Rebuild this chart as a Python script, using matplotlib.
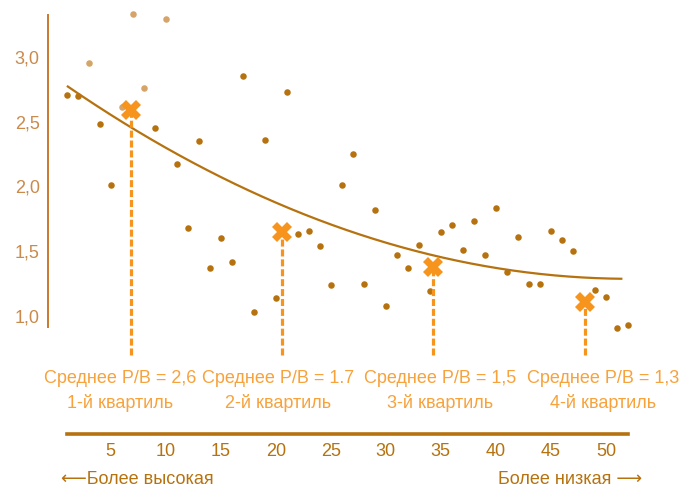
import numpy as np
import matplotlib.pyplot as plt
from matplotlib.ticker import FixedLocator, FuncFormatter

# Data: stock rank (by P/B) and its P/B value
ranks = [1, 2, 3, 4, 5, 6, 7, 8, 9, 10, 11, 12, 13, 14, 15, 16, 17, 18, 19, 20,
         21, 22, 23, 24, 25, 26, 27, 28, 29, 30, 31, 32, 33, 34, 35, 36, 37, 38,
         39, 40, 41, 42, 43, 44, 45, 46, 47, 49, 50, 51, 52]
pb_values = [2.71, 2.70, 2.95, 2.48, 2.01, 2.61, 3.33, 2.76, 2.45, 3.29, 2.17,
             1.68, 2.35, 1.37, 1.60, 1.42, 2.85, 1.03, 2.36, 1.14, 2.73, 1.63,
             1.66, 1.54, 1.24, 2.01, 2.25, 1.25, 1.82, 1.08, 1.47, 1.37, 1.55,
             1.19, 1.65, 1.70, 1.51, 1.73, 1.47, 1.83, 1.34, 1.61, 1.25, 1.25,
             1.66, 1.59, 1.50, 1.20, 1.15, 0.91, 0.93]
light_ranks = [3, 6, 7, 8, 10]

# Trend line
trend_x = [1.1, 6.9, 25.9, 41.0, 51.4]
trend_y = [2.78, 2.44, 1.69, 1.35, 1.29]

# Quartile means
quart_x = [6.85, 20.56, 34.3, 48.1]
quart_y = [2.59, 1.65, 1.38, 1.11]
quart_means = ["2,6", "1.7", "1,5", "1,3"]
quart_names = ["1-й квартиль", "2-й квартиль", "3-й квартиль", "4-й квартиль"]
label_x = [5.85, 20.2, 34.9, 49.75]

x_ticks = [5, 10, 15, 20, 25, 30, 35, 40, 45, 50]
y_ticks = [1.0, 1.5, 2.0, 2.5, 3.0]

dark = "#b5720f"
light = "#d6a468"
orange = "#f7941d"
label_orange = "#f8a23c"
axis_col = "#c77a2e"
ylab_col = "#c98a4b"

plt.rcParams['font.family'] = ['Liberation Sans', 'DejaVu Sans']
fsize = 13

fig = plt.figure(figsize=(6.95, 4.87), dpi=100)
ax = fig.add_axes([48 / 695, 1 - 434 / 487, 592 / 695, 419 / 487])
ax.set_xlim(-0.7, 53.1)
ax.set_ylim(0.0888, 3.324)

# scatter
xs = np.array(ranks)
ys = np.array(pb_values)
is_light = np.isin(xs, light_ranks)
ax.scatter(xs[~is_light], ys[~is_light], s=22, color=dark, linewidths=0,
           zorder=3, clip_on=False)
ax.scatter(xs[is_light], ys[is_light], s=22, color=light, linewidths=0,
           zorder=3, clip_on=False)

# trend
coef = np.polyfit(trend_x, trend_y, 2)
tx = np.linspace(trend_x[0], trend_x[-1], 200)
ax.plot(tx, np.polyval(coef, tx), color=dark, lw=1.6, zorder=2)

# quartile markers and dashed drops
for qx, qy, m, name, lx in zip(quart_x, quart_y, quart_means, quart_names, label_x):
    ax.plot([qx, qx], [0.70, qy], color=orange, lw=2.3,
            linestyle=(0, (2.2, 0.9)), zorder=4)
    ax.plot(qx, qy, marker='X', markersize=14, color=orange,
            markeredgewidth=0, zorder=5)
    ax.text(lx, 0.521, "Среднее P/B = " + m, color=label_orange, fontsize=fsize,
            ha='center', va='center')
    ax.text(lx, 0.328, name, color=label_orange, fontsize=fsize,
            ha='center', va='center')

# axes styling
for s in ['top', 'right']:
    ax.spines[s].set_visible(False)
ax.spines['left'].set_bounds(0.915, 3.324)
ax.spines['left'].set_color(axis_col)
ax.spines['left'].set_linewidth(1.4)
ax.spines['bottom'].set_bounds(1.03, 52.0)
ax.spines['bottom'].set_color(dark)
ax.spines['bottom'].set_linewidth(2.6)

ax.yaxis.set_major_locator(FixedLocator(y_ticks))
ax.yaxis.set_major_formatter(FuncFormatter(lambda v, p: f"{v:.1f}".replace(".", ",")))
ax.xaxis.set_major_locator(FixedLocator(x_ticks))
ax.tick_params(axis='y', length=0, pad=6, labelsize=fsize, labelcolor=ylab_col)
ax.tick_params(axis='x', length=0, pad=6.5, labelsize=fsize, labelcolor=dark)

fig.text(61 / 695, 1 - 479 / 487, "⟵Более высокая", color=dark, fontsize=fsize,
         ha='left', va='center')
fig.text(642 / 695, 1 - 479 / 487, "Более низкая ⟶", color=dark, fontsize=fsize,
         ha='right', va='center')

fig.savefig("out.png", dpi=100)
